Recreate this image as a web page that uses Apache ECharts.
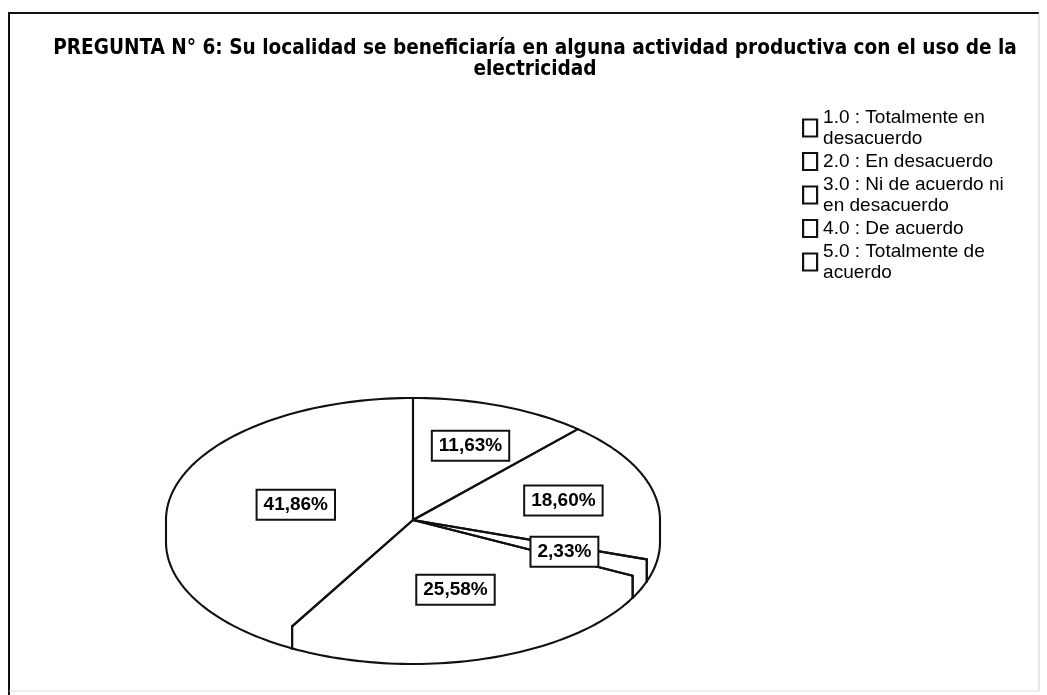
<!DOCTYPE html>
<html>
<head>
<meta charset="utf-8">
<script src="https://cdn.jsdelivr.net/npm/echarts@6/dist/echarts.min.js"></script>
<style>
html,body{margin:0;padding:0;background:#fff;}
#main{width:1047px;height:695px;}
</style>
</head>
<body>
<div id="main"></div>
<script>
// ---- data ----
const categories = [
  '1.0 : Totalmente en desacuerdo',
  '2.0 : En desacuerdo',
  '3.0 : Ni de acuerdo ni en desacuerdo',
  '4.0 : De acuerdo',
  '5.0 : Totalmente de acuerdo'
];
const legendLabels = [
  '1.0 : Totalmente en\ndesacuerdo',
  '2.0 : En desacuerdo',
  '3.0 : Ni de acuerdo ni\nen desacuerdo',
  '4.0 : De acuerdo',
  '5.0 : Totalmente de\nacuerdo'
];
const sliceValues = [11.63, 18.60, 2.33, 25.58, 41.86];
const titleText = 'PREGUNTA N° 6: Su localidad se beneficiaría en alguna actividad productiva con el uso de la\nelectricidad';

// ---- layout (styling) ----
const PIE = { cx: 413, cy: 520, rx: 247, ry: 122, depth: 22 };
const LINE_W = 2.1;

const total = sliceValues.reduce((s, v) => s + v, 0);
let acc = 0;
const sliceAngles = sliceValues.map(v => {
  const a = acc / total * 360;
  acc += v;
  return [a, acc / total * 360];
});

function pt(phi, dy) {
  const r = phi * Math.PI / 180;
  return [PIE.cx + PIE.rx * Math.sin(r), PIE.cy - PIE.ry * Math.cos(r) + (dy || 0)];
}
function arc(a, b, dy) {
  const pts = [];
  const n = Math.max(2, Math.ceil(Math.abs(b - a) / 1.5));
  for (let i = 0; i <= n; i++) pts.push(pt(a + (b - a) * i / n, dy));
  return pts;
}
const lineStyle = { stroke: '#111', lineWidth: LINE_W, fill: null, lineJoin: 'round', lineCap: 'round' };

function renderSlice(params, api) {
  const a = api.value(0), b = api.value(1), v = api.value(2);
  const children = [];
  // side wall (front half only)
  const s = Math.max(a, 90), e = Math.min(b, 270);
  if (e > s) {
    const top = arc(s, e, 0), bot = arc(e, s, PIE.depth);
    children.push({ type: 'polygon', z2: 1, shape: { points: top.concat(bot) }, style: { fill: '#fff', stroke: null } });
    children.push({ type: 'polyline', z2: 5, shape: { points: arc(s, e, PIE.depth) }, style: lineStyle });
    [s, e].forEach(p => {
      children.push({ type: 'line', z2: 5, shape: { x1: pt(p)[0], y1: pt(p)[1], x2: pt(p, PIE.depth)[0], y2: pt(p, PIE.depth)[1] }, style: lineStyle });
    });
  }
  // top face
  children.push({ type: 'polygon', z2: 2, shape: { points: [[PIE.cx, PIE.cy]].concat(arc(a, b, 0)) }, style: { fill: '#fff', stroke: null } });
  // back arc edges of top face
  if (a < 90) children.push({ type: 'polyline', z2: 5, shape: { points: arc(a, Math.min(b, 90), 0) }, style: lineStyle });
  if (b > 270) children.push({ type: 'polyline', z2: 5, shape: { points: arc(Math.max(a, 270), b, 0) }, style: lineStyle });
  // radial edges
  [a, b].forEach(p => {
    const q = pt(p);
    children.push({ type: 'line', z2: 5, shape: { x1: PIE.cx, y1: PIE.cy, x2: q[0], y2: q[1] }, style: lineStyle });
  });
  // label at sector centroid
  const half = (b - a) / 2 * Math.PI / 180;
  const rc = 2 * Math.sin(half) / (3 * half);
  const mid = (a + b) / 2 * Math.PI / 180;
  children.push({
    type: 'text', z2: 10,
    x: PIE.cx + PIE.rx * rc * Math.sin(mid),
    y: PIE.cy - PIE.ry * rc * Math.cos(mid),
    style: {
      text: v.toFixed(2).replace('.', ',') + '%',
      fill: '#000', font: 'bold 19px "Liberation Sans", Arial, sans-serif',
      align: 'center', verticalAlign: 'middle',
      backgroundColor: '#fff', borderColor: '#111', borderWidth: 2,
      padding: [5, 6, 4, 6]
    }
  });
  return { type: 'group', children: children };
}

const series = categories.map((name, i) => ({
  type: 'custom',
  name: name,
  coordinateSystem: 'none',
  itemStyle: { color: '#fff', borderColor: '#111', borderWidth: 2 },
  data: [{ name: name, value: [sliceAngles[i][0], sliceAngles[i][1], sliceValues[i]] }],
  renderItem: renderSlice,
  silent: true
}));

const chart = echarts.init(document.getElementById('main'), null, { renderer: 'canvas' });
chart.setOption({
  animation: false,
  backgroundColor: '#fff',
  legend: {
    orient: 'vertical',
    left: 797, top: 102,
    itemGap: 2,
    itemWidth: 14, itemHeight: 17,
    icon: 'rect',
    selectedMode: false,
    data: categories.map(n => ({ name: n })),
    itemStyle: { color: '#fff', borderColor: '#111', borderWidth: 2.2 },
    formatter: name => legendLabels[categories.indexOf(name)],
    textStyle: { fontFamily: '"Liberation Sans", Arial, sans-serif', fontSize: 19, lineHeight: 21, color: '#000', padding: [0, 0, 0, 1] }
  },
  graphic: [
    {
      type: 'text', x: 535, y: 38.5, z: 10,
      style: {
        text: titleText, align: 'center', verticalAlign: 'top',
        font: 'bold 20.6px "Liberation Sans Narrow", "DejaVu Sans Condensed", "Liberation Sans", sans-serif',
        lineHeight: 21, fill: '#000'
      }
    },
    { type: 'line', shape: { x1: 8, y1: 13, x2: 1039, y2: 13 }, style: { stroke: '#111', lineWidth: 2 } },
    { type: 'line', shape: { x1: 9, y1: 13, x2: 9, y2: 695 }, style: { stroke: '#111', lineWidth: 2 } },
    { type: 'line', shape: { x1: 1039, y1: 13, x2: 1039, y2: 691 }, style: { stroke: '#ccc', lineWidth: 1 } },
    { type: 'line', shape: { x1: 9, y1: 691, x2: 1039, y2: 691 }, style: { stroke: '#ddd', lineWidth: 1 } }
  ],
  series: series
});
</script>
</body>
</html>
